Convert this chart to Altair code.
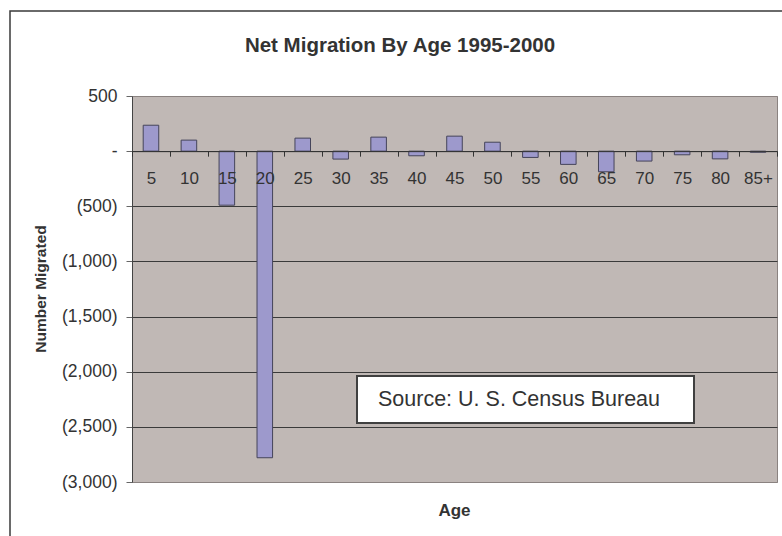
import altair as alt
import pandas as pd

# Net migration by five-year age group, 1995-2000
ages = ["5", "10", "15", "20", "25", "30", "35", "40", "45",
        "50", "55", "60", "65", "70", "75", "80", "85+"]
net_migrated = [235, 100, -490, -2780, 118, -72, 127, -42, 136,
                81, -57, -120, -187, -90, -33, -70, -10]

y_ticks = [500, 0, -500, -1000, -1500, -2000, -2500, -3000]

chart_title = ["Net Migration By Age 1995-2000"]
x_title = ["Age"]
y_title = ["Number Migrated"]
source_note = ["Source: U. S. Census Bureau"]

W, H = 645, 386
FONT = "Liberation Sans"
INK = "#333333"
Y_MIN, Y_MAX = y_ticks[-1], y_ticks[0]
zero_px = H * Y_MAX / (Y_MAX - Y_MIN)

df = pd.DataFrame({"age": ages, "migrated": net_migrated})
one = pd.DataFrame({"k": [0]})

# accounting-style labels: 500, -, (500), (1,000) ...
y_label_expr = (
    "datum.value == 0 ? '-' : (datum.value < 0 ? '(' + format(-datum.value, ',') + ')'"
    " : format(datum.value, ','))"
)

frame = alt.Chart(one).mark_rect(fill=None, stroke="#3a3a3a", strokeWidth=1.5).encode(
    x=alt.value(-122), x2=alt.value(W + 40), y=alt.value(-85), y2=alt.value(H + 100)
)

bars = alt.Chart(df).mark_bar(
    width=alt.RelativeBandSize(0.41), fill="#9d99cc", stroke="#45445a", strokeWidth=1
).encode(
    x=alt.X(
        "age:N", sort=ages,
        scale=alt.Scale(paddingInner=0, paddingOuter=0),
        axis=alt.Axis(
            orient="bottom", offset=zero_px - H, title=None, labelAngle=0,
            labelFont=FONT, labelFontSize=17, labelColor=INK, labelPadding=14,
            labelOverlap=False, tickBand="extent", tickSize=5, tickColor="#333333",
            domainColor="#333333", domainWidth=1, zindex=1,
        ),
    ),
    y=alt.Y(
        "migrated:Q",
        scale=alt.Scale(domain=[Y_MIN, Y_MAX], nice=False),
        axis=alt.Axis(
            values=y_ticks, title=None, labelExpr=y_label_expr,
            labelFont=FONT, labelFontSize=17.5, labelColor=INK, labelPadding=9,
            tickSize=6, tickColor="#666666", domainColor="#444444",
            grid=True, gridWidth=1,
            gridColor={
                "condition": {"test": "datum.value == 500 || datum.value == -3000",
                              "value": "#8a8280"},
                "value": "#3a3a3a",
            },
        ),
    ),
)

source_box = alt.Chart(one).mark_rect(fill="white", stroke="#404040", strokeWidth=2).encode(
    x=alt.value(225), x2=alt.value(562), y=alt.value(280), y2=alt.value(327)
)
source_text = alt.Chart(pd.DataFrame({"t": source_note})).mark_text(
    font=FONT, fontSize=21.5, color=INK, align="left", baseline="alphabetic"
).encode(x=alt.value(246), y=alt.value(310), text="t:N")

title_text = alt.Chart(pd.DataFrame({"t": chart_title})).mark_text(
    font=FONT, fontSize=20.5, fontWeight="bold", color=INK, align="center", baseline="alphabetic"
).encode(x=alt.value(268), y=alt.value(-44), text="t:N")

x_title_text = alt.Chart(pd.DataFrame({"t": x_title})).mark_text(
    font=FONT, fontSize=17, fontWeight="bold", color=INK, align="center", baseline="alphabetic"
).encode(x=alt.value(W / 2), y=alt.value(H + 34), text="t:N")

y_title_text = alt.Chart(pd.DataFrame({"t": y_title})).mark_text(
    font=FONT, fontSize=15.5, fontWeight="bold", color=INK, align="center",
    baseline="alphabetic", angle=270
).encode(x=alt.value(-86), y=alt.value(H / 2), text="t:N")

chart = alt.layer(
    frame, bars, source_box, source_text, title_text, x_title_text, y_title_text
).properties(
    width=W, height=H,
    autosize=alt.AutoSizeParams(type="none"),
    padding={"left": 132, "top": 96, "right": 5, "bottom": 54},
    background="white",
).configure_view(
    fill="#c0b8b5", stroke="#8a8280", strokeWidth=1
)

chart.save("out.html", embed_options={"renderer": "svg", "actions": False})
